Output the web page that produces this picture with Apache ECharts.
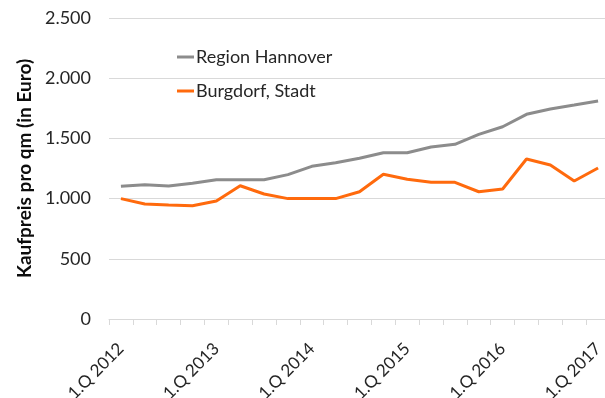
<!DOCTYPE html>
<html>
<head>
<meta charset="utf-8">
<script src="https://cdn.jsdelivr.net/npm/echarts@6/dist/echarts.min.js"></script>
<style>
  html, body { margin: 0; padding: 0; background: #ffffff; }
  #chart { width: 605px; height: 398px; }
</style>
</head>
<body>
<div id="chart"></div>
<script>
// Quarterly purchase price per square metre, 1st quarter 2012 to 1st quarter 2017
const quarters = [
  '1.Q 2012', '2.Q 2012', '3.Q 2012', '4.Q 2012',
  '1.Q 2013', '2.Q 2013', '3.Q 2013', '4.Q 2013',
  '1.Q 2014', '2.Q 2014', '3.Q 2014', '4.Q 2014',
  '1.Q 2015', '2.Q 2015', '3.Q 2015', '4.Q 2015',
  '1.Q 2016', '2.Q 2016', '3.Q 2016', '4.Q 2016',
  '1.Q 2017'
];

const regionHannover = [
  1102, 1115, 1105, 1127, 1157, 1157, 1157, 1199, 1268, 1298, 1335,
  1381, 1381, 1429, 1451, 1534, 1597, 1700, 1744, 1777, 1811
];

const burgdorfStadt = [
  1000, 955, 947, 941, 980, 1107, 1038, 1000, 1000, 1000, 1057,
  1202, 1160, 1135, 1135, 1057, 1080, 1329, 1279, 1146, 1254
];

const yTicks = { min: 0, max: 2500, interval: 500 };

const fontFamily = 'Lato, "Open Sans", sans-serif';
const gridGray = '#d9d9d9';

// German thousands separator: 2500 -> "2.500"
function formatDe(v) {
  return String(v).replace(/\B(?=(\d{3})+(?!\d))/g, '.');
}

const chart = echarts.init(document.getElementById('chart'), null, { renderer: 'canvas' });

chart.setOption({
  animation: false,
  backgroundColor: '#ffffff',
  textStyle: { fontFamily: fontFamily },
  grid: {
    left: 109, right: -5, top: 18, bottom: 79,
    containLabel: false,
    outerBoundsMode: 'none'
  },
  legend: {
    orient: 'vertical',
    left: 172,
    top: 41,
    icon: 'rect',
    itemWidth: 17,
    itemHeight: 3,
    itemGap: 12,
    textStyle: { fontFamily: fontFamily, fontSize: 18, color: '#262626', lineHeight: 22, padding: [0, 0, 0, -3] },
    data: ['Region Hannover', 'Burgdorf, Stadt']
  },
  xAxis: {
    type: 'category',
    data: quarters,
    boundaryGap: true,
    axisLine: { show: true, lineStyle: { color: gridGray, width: 1 } },
    axisTick: { show: true, interval: 0, length: 6, lineStyle: { color: gridGray } },
    axisLabel: {
      interval: 3,
      rotate: 45,
      margin: 27,
      fontFamily: fontFamily,
      fontSize: 17,
      color: '#262626'
    },
    splitLine: { show: false }
  },
  yAxis: {
    type: 'value',
    min: yTicks.min,
    max: yTicks.max,
    interval: yTicks.interval,
    name: 'Kaufpreis pro qm (in Euro)',
    nameLocation: 'middle',
    nameGap: 73,
    nameTextStyle: { fontFamily: fontFamily, fontSize: 19, fontWeight: 'bold', color: '#0d0d0d' },
    axisLine: { show: false },
    axisTick: { show: false },
    axisLabel: {
      margin: 18,
      fontFamily: fontFamily,
      fontSize: 18,
      color: '#262626',
      formatter: formatDe
    },
    splitLine: { show: true, lineStyle: { color: gridGray, width: 1 } }
  },
  series: [
    {
      name: 'Region Hannover',
      type: 'line',
      data: regionHannover,
      symbol: 'none',
      color: '#8c8c8c',
      lineStyle: { color: '#8c8c8c', width: 3 },
      z: 3
    },
    {
      name: 'Burgdorf, Stadt',
      type: 'line',
      data: burgdorfStadt,
      symbol: 'none',
      color: '#ff6a0d',
      lineStyle: { color: '#ff6a0d', width: 3 },
      z: 4
    }
  ]
});
</script>
</body>
</html>
